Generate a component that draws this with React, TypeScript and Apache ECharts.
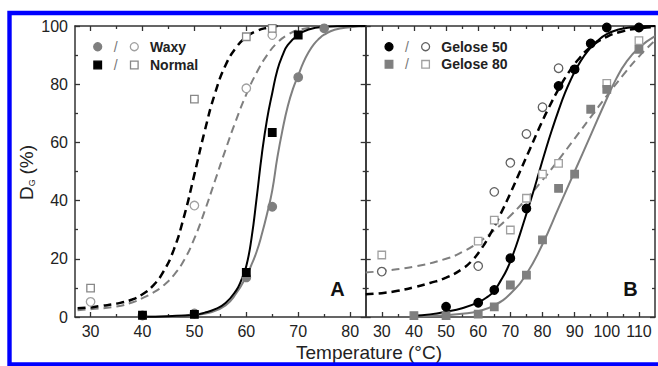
import React, { useEffect, useRef } from "react";
import * as echarts from "echarts";

// ---------- Panel A data ----------
const waxyFilled = [[40, 0.5], [50, 1.2], [60, 13.6], [65, 37.9], [70, 82.4], [75, 99.2]];
const normalFilled = [[40, 0.6], [50, 0.9], [60, 15.3], [65, 63.4], [70, 96.9]];
const waxyOpen = [[30, 5.2], [50, 38.3], [60, 78.6], [65, 96.9]];
const normalOpen = [[30, 9.9], [50, 74.9], [60, 96.3], [65, 99.2]];

const normalFilledFit = [[40, 0.1], [45, 0.3], [50, 0.8], [52, 1.5], [54, 2.7], [56, 4.8], [58, 9], [59, 12.5], [60, 17.5], [61, 27], [62, 41], [63, 56], [64, 68], [65, 77], [66, 85], [67, 90], [68, 93.5], [70, 97], [72, 98.8], [75, 99.7], [80, 100], [83, 100]];
const waxyFilledFit = [[40, 0.1], [45, 0.2], [50, 0.7], [53, 1.5], [56, 4], [58, 8], [60, 14], [61, 18], [62, 22.5], [63, 28.5], [64, 35.5], [65, 43.5], [66, 55], [67, 64.5], [68, 72.5], [69, 78.5], [70, 83], [71, 87.5], [72, 91], [73, 93.7], [74, 95.6], [75, 97], [77, 98.7], [80, 99.6], [83, 100]];
const normalOpenFit = [[27.5, 3], [30, 3.3], [32, 3.8], [35, 4.6], [38, 6], [40, 7.8], [42, 10.7], [44, 15.5], [46, 23], [48, 34.5], [50, 49], [52, 64], [54, 77], [56, 86.5], [58, 92.5], [60, 96.2], [62, 98.3], [64, 99.4], [66, 100]];
const waxyOpenFit = [[27.5, 2.3], [30, 2.7], [35, 3.6], [38, 5], [40, 6.5], [42, 8.3], [44, 10.8], [46, 14.3], [48, 19.5], [50, 27], [52, 36.5], [54, 47], [56, 57.5], [58, 67.5], [60, 76.5], [62, 84], [64, 90], [66, 94.3], [68, 97], [70, 98.6], [74, 99.8]];

// ---------- Panel B data ----------
const g50Filled = [[50, 3.5], [60, 4.9], [65, 9.3], [70, 20.2], [75, 37.3], [85, 79.4], [90, 85.1], [95, 94], [100, 99.5], [110, 99.5]];
const g50Open = [[30, 15.6], [60, 17.5], [65, 43], [70, 53], [75, 62.9], [80, 72.1], [85, 85.5]];
const g80Filled = [[40, 0.5], [50, 0.5], [60, 1], [65, 3.5], [70, 11], [75, 14.4], [80, 26.5], [85, 44.2], [90, 49.1], [95, 71.4], [100, 78.2], [110, 92]];
const g80Open = [[30, 21.3], [60, 26.1], [65, 33.3], [70, 29.9], [75, 40.8], [80, 49.1], [85, 52.8], [100, 80.3], [110, 95]];

const g50FilledFit = [[40, 0.4], [45, 0.9], [50, 1.8], [55, 3], [60, 5], [63, 7], [65, 9], [67, 12.5], [69, 16.5], [71, 22], [73, 28.5], [75, 35.5], [77, 42.5], [79, 50], [81, 57.5], [83, 64.5], [85, 71], [87, 77], [89, 82], [91, 86.3], [93, 89.8], [95, 92.6], [97, 94.8], [100, 97.2], [104, 98.9], [108, 99.6], [115, 100]];
const g80FilledFit = [[40, 0.2], [50, 0.6], [55, 1.1], [60, 2], [65, 4], [70, 8], [75, 14.8], [80, 25], [85, 37.5], [90, 50], [95, 62.5], [100, 75], [103, 82], [106, 87.5], [110, 92.5], [115, 96.5]];
const g50OpenFit = [[25, 7.8], [30, 8.2], [35, 9], [40, 10.2], [45, 11.7], [50, 13.5], [55, 16.5], [58, 19.3], [61, 23.5], [64, 29], [67, 35.5], [70, 42.5], [73, 50], [76, 57.5], [79, 65], [82, 72], [85, 78.3], [88, 83.8], [91, 88.3], [95, 92.8], [100, 96.3], [105, 98.2], [110, 99.2], [115, 99.6]];
const g80OpenFit = [[25, 15.3], [30, 15.8], [40, 17.3], [50, 20], [55, 22.3], [60, 25.6], [65, 29.8], [70, 34.8], [75, 40.6], [80, 47], [85, 54], [90, 61.3], [95, 68.7], [100, 76], [105, 83], [110, 89.5], [115, 95]];

// ---------- Ticks ----------
const xMajorA = [30, 40, 50, 60, 70, 80];
const xMinorA = [35, 45, 55, 65, 75];
const xMajorB = [30, 40, 50, 60, 70, 80, 90, 100, 110];
const xMinorB = [35, 45, 55, 65, 75, 85, 95, 105];

const FONT = "Liberation Sans";
const AXIS_COLOR = "#333";
const GRAY = "#7f7f7f";

function xAxesFor(grid: number, min: number, max: number, major: number[], minor: number[]) {
  const base = { type: "value", gridIndex: grid, min, max, splitLine: { show: false } };
  return [
    {
      ...base, position: "bottom",
      axisLine: { show: true, lineStyle: { color: AXIS_COLOR, width: 1.5 } },
      axisTick: { show: true, inside: true, length: 5, customValues: major, lineStyle: { color: AXIS_COLOR, width: 1.3 } },
      axisLabel: { show: true, customValues: major, fontSize: 16, margin: 6, color: "#222", fontFamily: FONT },
    },
    {
      ...base, position: "bottom",
      axisLine: { show: false },
      axisTick: { show: true, inside: true, length: 3, customValues: minor, lineStyle: { color: AXIS_COLOR, width: 1.3 } },
      axisLabel: { show: false },
    },
    {
      ...base, position: "top",
      axisLine: { show: true, lineStyle: { color: AXIS_COLOR, width: 1.5 } },
      axisTick: { show: true, inside: true, length: 5, customValues: major, lineStyle: { color: AXIS_COLOR, width: 1.3 } },
      axisLabel: { show: false },
    },
    {
      ...base, position: "top",
      axisLine: { show: false },
      axisTick: { show: true, inside: true, length: 3, customValues: minor, lineStyle: { color: AXIS_COLOR, width: 1.3 } },
      axisLabel: { show: false },
    },
  ];
}

function yAxesFor(grid: number, showLabels: boolean) {
  const base = {
    type: "value", gridIndex: grid, min: 0, max: 100, interval: 20,
    splitLine: { show: false },
    axisLine: { show: true, lineStyle: { color: AXIS_COLOR, width: 1.5 } },
    axisTick: { show: true, inside: true, length: 5, lineStyle: { color: AXIS_COLOR, width: 1.3 } },
    minorTick: { show: true, splitNumber: 2, length: 3, lineStyle: { color: AXIS_COLOR, width: 1.3 } },
  };
  return [
    { ...base, position: "left", axisLabel: { show: showLabels, fontSize: 16, margin: 7, color: "#222", fontFamily: FONT } },
    { ...base, position: "right", axisLabel: { show: false } },
  ];
}

function fit(data: number[][], xi: number, yi: number, color: string, width: number, dashed: boolean) {
  return {
    type: "line", xAxisIndex: xi, yAxisIndex: yi, data, symbol: "none", showSymbol: false,
    smooth: 0.5, silent: true, z: 2,
    lineStyle: { color, width, type: dashed ? [8, 5] : "solid", cap: "butt" },
  };
}

function pts(data: number[][], xi: number, yi: number, symbol: string, fill: string, border: string, z: number) {
  return {
    type: "scatter", xAxisIndex: xi, yAxisIndex: yi, data, symbol, symbolSize: symbol === "circle" ? 8.5 : 7.5,
    itemStyle: { color: fill, borderColor: border, borderWidth: 1.3, opacity: 1 }, z, silent: true,
  };
}

function legendRow(y: number, x0: number, filledShape: string, filledColor: string, openShape: string, openStroke: string, label: string) {
  const mk = (shape: string, cx: number, fill: string, stroke: string) =>
    shape === "circle"
      ? { type: "circle", shape: { cx, cy: y, r: 4 }, style: { fill, stroke, lineWidth: 1.3 } }
      : { type: "rect", shape: { x: cx - 3.8, y: y - 3.8, width: 7.6, height: 7.6 }, style: { fill, stroke, lineWidth: 1.3 } };
  return [
    mk(filledShape, x0, filledColor, filledColor),
    { type: "text", x: x0 + 18, y, style: { text: "/", fontSize: 14, fontFamily: FONT, fill: "#777", align: "center", verticalAlign: "middle" } },
    mk(openShape, x0 + 36.6, "#fff", openStroke),
    { type: "text", x: x0 + 52.3, y, style: { text: label, fontSize: 14, fontWeight: "bold", fontFamily: FONT, fill: "#222", align: "left", verticalAlign: "middle" } },
  ];
}

export default function App() {
  const ref = useRef<HTMLDivElement>(null);
  useEffect(() => {
    const chart = echarts.init(ref.current!, null, { renderer: "svg" });
    const option: any = {
      animation: false,
      backgroundColor: "#fff",
      grid: [
        { left: 75, top: 26, width: 290.7, height: 291 },
        { left: 365.7, top: 26, width: 289.3, height: 291 },
      ],
      xAxis: [...xAxesFor(0, 27, 83, xMajorA, xMinorA), ...xAxesFor(1, 25, 115, xMajorB, xMinorB)],
      yAxis: [...yAxesFor(0, true), ...yAxesFor(1, false)],
      series: [
        fit(waxyOpenFit, 0, 0, GRAY, 2, true),
        fit(normalOpenFit, 0, 0, "#000", 2.5, true),
        fit(waxyFilledFit, 0, 0, GRAY, 2, false),
        fit(normalFilledFit, 0, 0, "#000", 2, false),
        pts(waxyOpen, 0, 0, "circle", "#fff", "#a0a0a0", 3),
        pts(normalOpen, 0, 0, "rect", "#fff", "#888", 3),
        pts(waxyFilled, 0, 0, "circle", GRAY, GRAY, 4),
        pts(normalFilled, 0, 0, "rect", "#000", "#000", 4),

        fit(g80OpenFit, 4, 2, GRAY, 2, true),
        fit(g50OpenFit, 4, 2, "#000", 2.5, true),
        fit(g80FilledFit, 4, 2, GRAY, 2, false),
        fit(g50FilledFit, 4, 2, "#000", 2, false),
        pts(g50Open, 4, 2, "circle", "#fff", "#606060", 3),
        pts(g80Open, 4, 2, "rect", "#fff", "#a0a0a0", 3),
        pts(g80Filled, 4, 2, "rect", GRAY, GRAY, 4),
        pts(g50Filled, 4, 2, "circle", "#000", "#000", 4),
      ],
      graphic: [
        ...legendRow(46.7, 97.7, "circle", GRAY, "circle", "#a0a0a0", "Waxy"),
        ...legendRow(65, 97.7, "rect", "#000", "rect", "#888", "Normal"),
        ...legendRow(46.7, 389, "circle", "#000", "circle", "#606060", "Gelose 50"),
        ...legendRow(64.3, 389, "rect", GRAY, "rect", "#a0a0a0", "Gelose 80"),
        { type: "text", x: 337.5, y: 289, style: { text: "A", fontSize: 20, fontWeight: "bold", fontFamily: FONT, fill: "#111", align: "center", verticalAlign: "middle" } },
        { type: "text", x: 630.5, y: 289, style: { text: "B", fontSize: 20, fontWeight: "bold", fontFamily: FONT, fill: "#111", align: "center", verticalAlign: "middle" } },
        { type: "text", x: 369, y: 352, style: { text: "Temperature (°C)", fontSize: 19, fontFamily: FONT, fill: "#222", align: "center", verticalAlign: "middle" } },
        {
          type: "group", x: 26, y: 172, rotation: Math.PI / 2,
          children: [
            { type: "text", x: -28, y: 0, style: { text: "D", fontSize: 19, fontFamily: FONT, fill: "#222", align: "left", verticalAlign: "middle" } },
            { type: "text", x: -14.3, y: 6, style: { text: "G", fontSize: 9, fontFamily: FONT, fill: "#222", align: "left", verticalAlign: "middle" } },
            { type: "text", x: -2.5, y: 0, style: { text: "(%)", fontSize: 19, fontFamily: FONT, fill: "#222", align: "left", verticalAlign: "middle" } },
          ],
        },
        { type: "rect", z: 100, shape: { x: 9.5, y: 13, width: 700, height: 351.5 }, style: { fill: "none", stroke: "#0000ff", lineWidth: 4.4 } },
      ],
    };
    chart.setOption(option);
    return () => chart.dispose();
  }, []);
  return <div ref={ref} style={{ position: "fixed", left: 0, top: 0, width: 658, height: 366, background: "#fff" }} />;
}
